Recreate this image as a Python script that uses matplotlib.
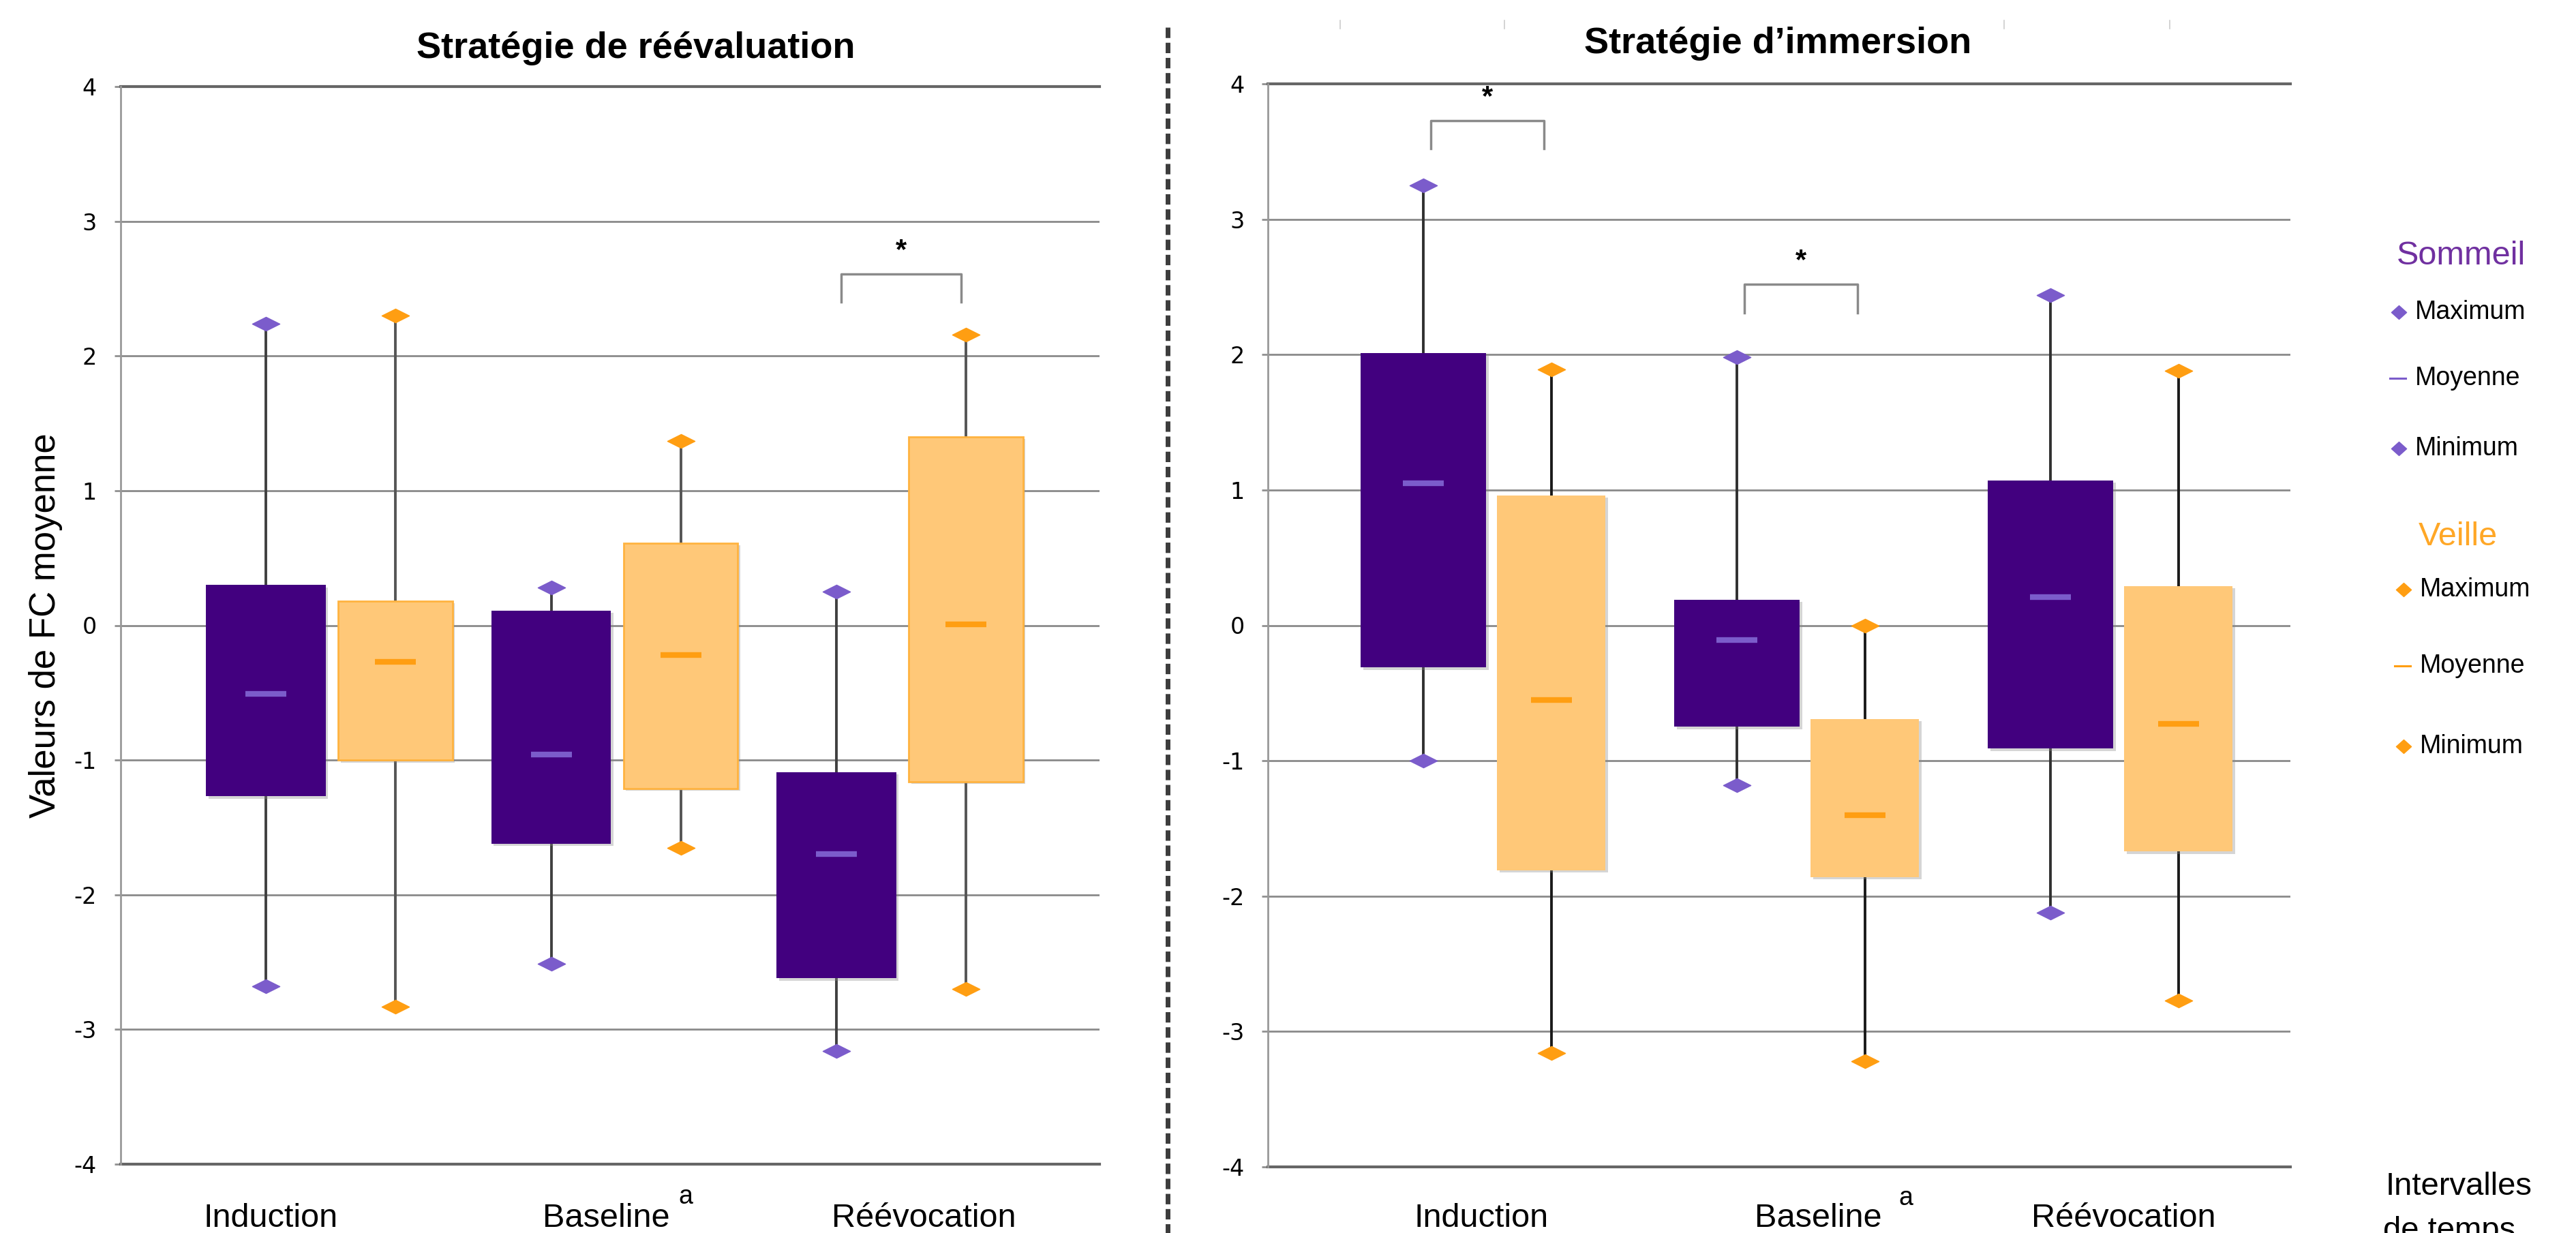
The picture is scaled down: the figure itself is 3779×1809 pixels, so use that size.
import matplotlib.pyplot as plt
from matplotlib.path import Path
from matplotlib.lines import Line2D
import matplotlib.patheffects as pe

plt.rcParams['font.family'] = ['Liberation Sans', 'DejaVu Sans']
plt.rcParams['axes.unicode_minus'] = False

# time intervals
categories = ['Induction', 'Baseline', 'Réévocation']

# reappraisal strategy - sleep group (Sommeil)
reev_sommeil_haut = [0.30, 0.11, -1.09]
reev_sommeil_bas = [-1.27, -1.62, -2.62]
reev_sommeil_moy = [-0.51, -0.96, -1.70]
reev_sommeil_max = [2.24, 0.28, 0.25]
reev_sommeil_min = [-2.68, -2.51, -3.16]
# reappraisal strategy - wake group (Veille)
reev_veille_haut = [0.18, 0.61, 1.40]
reev_veille_bas = [-1.00, -1.21, -1.16]
reev_veille_moy = [-0.27, -0.22, 0.01]
reev_veille_max = [2.30, 1.37, 2.16]
reev_veille_min = [-2.83, -1.65, -2.70]

# immersion strategy - sleep group
imm_sommeil_haut = [2.01, 0.19, 1.07]
imm_sommeil_bas = [-0.31, -0.75, -0.91]
imm_sommeil_moy = [1.05, -0.11, 0.21]
imm_sommeil_max = [3.25, 1.98, 2.44]
imm_sommeil_min = [-1.00, -1.18, -2.12]
# immersion strategy - wake group
imm_veille_haut = [0.96, -0.69, 0.29]
imm_veille_bas = [-1.81, -1.86, -1.67]
imm_veille_moy = [-0.55, -1.40, -0.73]
imm_veille_max = [1.89, 0.00, 1.88]
imm_veille_min = [-3.16, -3.22, -2.77]

# significant differences: (interval index, bracket height)
reev_signif = [(2, 2.61)]
imm_signif = [(0, 3.73), (1, 2.52)]

yticks = [-4, -3, -2, -1, 0, 1, 2, 3, 4]

PURPLE_BOX = '#42007f'
PURPLE_MARK = '#7b5ccb'
ORANGE_BOX = '#ffc878'
ORANGE_MARK = '#ff9e12'

W, H = 3779, 1809
fig = plt.figure(figsize=(W / 100, H / 100), dpi=100)


def fx(px):
    return px / W


def fy(py):
    return 1 - py / H


# flat diamond used for min / max
flat_diamond = Path([(-0.5, 0), (0, 0.25), (0.5, 0), (0, -0.25), (-0.5, 0)],
                    [Path.MOVETO, Path.LINETO, Path.LINETO, Path.LINETO, Path.CLOSEPOLY])
small_diamond = Path([(-0.5, 0), (0, 0.45), (0.5, 0), (0, -0.45), (-0.5, 0)],
                     [Path.MOVETO, Path.LINETO, Path.LINETO, Path.LINETO, Path.CLOSEPOLY])

shadow = [pe.SimplePatchShadow(offset=(2.5, -2.5), shadow_rgbFace='#888888', alpha=0.35), pe.Normal()]


def draw_group(ax, xs, hi, lo, moy, mx, mn, width, box_col, mark_col, edge, whisk_col):
    ax.vlines(xs, mn, mx, color=whisk_col, lw=2.8, zorder=2)
    heights = [h - l for h, l in zip(hi, lo)]
    bars = ax.bar(xs, heights, bottom=lo, width=width, color=box_col,
                  edgecolor=edge, linewidth=2 if edge != 'none' else 0, zorder=3)
    for b in bars:
        b.set_path_effects(shadow)
    ax.plot(xs, mx, ls='none', marker=flat_diamond, ms=29, color=mark_col, mec=mark_col, zorder=4)
    ax.plot(xs, mn, ls='none', marker=flat_diamond, ms=29, color=mark_col, mec=mark_col, zorder=4)
    ax.plot(xs, moy, ls='none', marker='_', ms=43, mew=6, color=mark_col, zorder=5)


def style_axes(ax, xlim, pad):
    ax.set_xlim(*xlim)
    ax.set_ylim(-4, 4)
    ax.set_yticks(yticks)
    ax.set_xticks([])
    for s in ['top', 'right', 'bottom']:
        ax.spines[s].set_visible(False)
    ax.spines['left'].set_color('#999999')
    ax.spines['left'].set_linewidth(2)
    ax.tick_params(axis='y', length=6.5, width=2, color='#909090', pad=pad, labelsize=24)
    for lab in ax.get_yticklabels():
        lab.set_fontfamily('DejaVu Sans')
    ax.set_axisbelow(True)
    ax.grid(axis='y', color='#8a8a8a', lw=2)
    for v in (-4, 4):
        ax.axhline(v, color='#666666', lw=3, zorder=1, clip_on=False)


def draw_signif(ax, signif, half):
    for i, y in signif:
        ax.plot([i - half, i - half, i + half, i + half], [y - 0.21, y, y, y - 0.21],
                color='#8a8a8a', lw=2.5, zorder=4)
        ax.text(i, y + 0.17, '*', ha='center', va='center', fontsize=30, fontweight='bold')


# ---- left panel : Stratégie de réévaluation
ax1 = fig.add_axes([fx(177), fy(1708), fx(1613) - fx(177), fy(127) - fy(1708)])
style_axes(ax1, (-0.736, 2.695), 19)
pos = range(len(categories))
off = 0.227
draw_group(ax1, [p - off for p in pos], reev_sommeil_haut, reev_sommeil_bas, reev_sommeil_moy,
           reev_sommeil_max, reev_sommeil_min, 0.42, PURPLE_BOX, PURPLE_MARK, 'none', '#404040')
draw_group(ax1, [p + off for p in pos], reev_veille_haut, reev_veille_bas, reev_veille_moy,
           reev_veille_max, reev_veille_min, 0.40, ORANGE_BOX, ORANGE_MARK, '#ffb340', '#555555')
draw_signif(ax1, reev_signif, 0.21)

# ---- right panel : Stratégie d'immersion
ax2 = fig.add_axes([fx(1860), fy(1712), fx(3360) - fx(1860), fy(123) - fy(1712)])
style_axes(ax2, (-0.70, 2.561), 18)
off = 0.204
draw_group(ax2, [p - off for p in pos], imm_sommeil_haut, imm_sommeil_bas, imm_sommeil_moy,
           imm_sommeil_max, imm_sommeil_min, 0.40, PURPLE_BOX, PURPLE_MARK, 'none', '#303030')
draw_group(ax2, [p + off for p in pos], imm_veille_haut, imm_veille_bas, imm_veille_moy,
           imm_veille_max, imm_veille_min, 0.345, ORANGE_BOX, ORANGE_MARK, 'none', '#1a1a1a')
draw_signif(ax2, imm_signif, 0.18)

# interval labels under each panel
for ax, lab_x, sup_x, lab_y, sup_y in [(ax1, (-0.21, 0.966, 2.08), 1.245, -0.058, -0.037),
                                       (ax2, (-0.02, 1.056, 2.03), 1.335, -0.0554, -0.035)]:
    tr = ax.get_xaxis_transform()
    for x, name in zip(lab_x, categories):
        ax.text(x, lab_y, name, transform=tr, ha='center', va='baseline', fontsize=35, clip_on=False)
    ax.text(sup_x, sup_y, 'a', transform=tr, ha='center', va='baseline', fontsize=27, clip_on=False)

# titles
fig.text(fx(933), fy(85), 'Stratégie de réévaluation', ha='center', va='baseline',
         fontsize=39, fontweight='bold')
fig.text(fx(2608), fy(78), 'Stratégie d\u2019immersion', ha='center', va='baseline',
         fontsize=39, fontweight='bold')

fig.text(fx(67), 0.493, 'Valeurs de FC moyenne', rotation=90, ha='center', va='center', fontsize=38)

# dashed separator between the two strategies
fig.add_artist(Line2D([fx(1713), fx(1713)], [fy(40), fy(1809)], color='#3c3c3c', lw=5,
                      dashes=(2.2, 1.0)))
for x in (1966, 2207, 2940, 3183):
    fig.add_artist(Line2D([fx(x), fx(x)], [fy(30), fy(42)], color='#cccccc', lw=1.2))

# legend
legend_groups = [('Sommeil', '#7030a0', 3610, 376, 3519, 3543, (458, 555, 658), PURPLE_MARK),
                 ('Veille', '#ffa726', 3606, 788, 3526, 3550, (865, 977, 1095), ORANGE_MARK)]
for title, tcol, tx, ty, mx, txt_x, rows, mcol in legend_groups:
    fig.text(fx(tx), fy(ty), title, color=tcol, ha='center', va='center', fontsize=35)
    for (label, kind), ry in zip([('Maximum', 'd'), ('Moyenne', 'l'), ('Minimum', 'd')], rows):
        if kind == 'd':
            fig.add_artist(Line2D([fx(mx)], [fy(ry)], ls='none', marker=small_diamond, ms=16,
                                  color=mcol, mec=mcol))
        else:
            fig.add_artist(Line2D([fx(mx - 13), fx(mx + 10)], [fy(ry), fy(ry)], color=mcol, lw=2.2))
        fig.text(fx(txt_x), fy(ry), label, ha='left', va='center', fontsize=27)

fig.text(fx(3500), fy(1753), 'Intervalles', ha='left', va='baseline', fontsize=34)
fig.text(fx(3496), fy(1818), 'de temps', ha='left', va='baseline', fontsize=34)

fig.savefig('out.png', dpi=100, facecolor='white')
